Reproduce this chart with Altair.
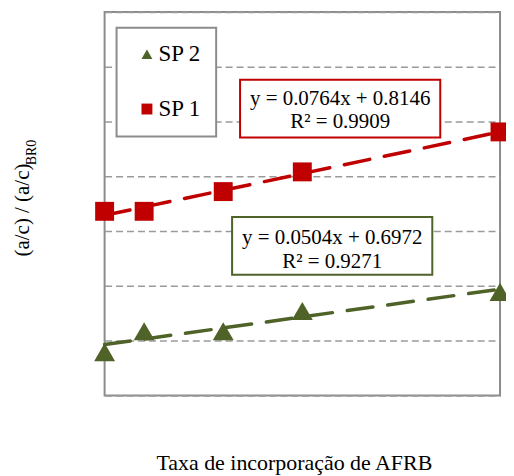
import altair as alt
import pandas as pd

# ---- data ----
x_values = [0, 1, 3, 5, 10]
sp1_values = [0.936, 0.936, 0.972, 1.008, 1.081]
sp2_values = [0.679, 0.717, 0.717, 0.754, 0.789]
series_names = ["SP 2", "SP 1"]
series_colors = ["#4F6228", "#C00000"]
series_shapes = ["triangle-up", "square"]
eq_sp1 = ["y = 0.0764x + 0.8146", "R² = 0.9909"]
eq_sp2 = ["y = 0.0504x + 0.6972", "R² = 0.9271"]
y_grid = [0.6, 0.7, 0.8, 0.9, 1.0, 1.1, 1.2, 1.3]
x_title = "Taxa de incorporação de AFRB"
y_title_main = "(a/c) / (a/c)"
y_title_sub = "BR0"

df = pd.DataFrame({
    "x": x_values * 2,
    "y": sp2_values + sp1_values,
    "series": ["SP 2"] * len(sp2_values) + ["SP 1"] * len(sp1_values),
})

FONT = "Liberation Serif"
W, H = 397, 385
marker_sizes = {"SP 2": 441, "SP 1": 361}

x_enc = alt.X(
    "x:Q",
    scale=alt.Scale(domain=[0, 10], nice=False, zero=False),
    axis=alt.Axis(
        title=x_title, labels=False, ticks=False, domain=False, grid=False,
        titleFont=FONT, titleFontSize=22, titleFontWeight="normal", titleColor="black",
        titleX=190, titleY=74, titleBaseline="alphabetic", titleAlign="center",
    ),
)
y_enc = alt.Y(
    "y:Q",
    scale=alt.Scale(domain=[0.6, 1.3], nice=False, zero=False),
    axis=alt.Axis(
        title=y_title_main, values=y_grid, labels=False, ticks=False, domain=False,
        grid=True, gridDash=[7, 4], gridColor="#9A9A9A", gridWidth=1.5,
        titleFont=FONT, titleFontSize=21, titleFontWeight="normal", titleColor="black",
        titleAngle=270, titleX=-76, titleY=245, titleAlign="left", titleBaseline="alphabetic",
    ),
)

color_scale = alt.Scale(domain=series_names, range=series_colors)
shape_scale = alt.Scale(domain=series_names, range=series_shapes)
legend = alt.Legend(
    title=None, orient="none", legendX=12, legendY=16, padding=15,
    symbolOffset=4, labelOffset=0, rowPadding=31, symbolSize=120,
    labelFont=FONT, labelFontSize=23, labelColor="black",
    strokeColor="#8C8C8C", fillColor="white", symbolStrokeWidth=0,
)

base = alt.Chart(df)

trend_layers = []
point_layers = []
for name, col in zip(series_names, series_colors):
    sub = base.transform_filter(alt.datum.series == name)
    trend_layers.append(
        sub.transform_regression("x", "y", extent=[0, 10]).mark_line(
            color=col, strokeWidth=3.5, strokeDash=[26, 15], strokeCap="round"
        ).encode(x=x_enc, y=y_enc)
    )
    point_layers.append(
        sub.mark_point(filled=True, opacity=1, size=marker_sizes[name]).encode(
            x=x_enc, y=y_enc,
            color=alt.Color("series:N", scale=color_scale, legend=legend),
            shape=alt.Shape("series:N", scale=shape_scale, legend=legend),
        )
    )

one = pd.DataFrame({"k": [0]})


def box(x1, x2, y1, y2, color):
    return alt.Chart(one).mark_rect(fill="white", stroke=color, strokeWidth=2).encode(
        x=alt.value(x1), x2=alt.value(x2), y=alt.value(y1), y2=alt.value(y2)
    )


def label(text, x, y, size=21, angle=0, align="center"):
    return alt.Chart(pd.DataFrame({"t": [text]})).mark_text(
        font=FONT, fontSize=size, align=align, baseline="alphabetic", color="black", angle=angle
    ).encode(x=alt.value(x), y=alt.value(y), text="t:N")


annotations = [
    box(136, 337, 68, 126, series_colors[1]),
    label(eq_sp1[0], 236.5, 93),
    label(eq_sp1[1], 236.5, 117),
    box(128, 329, 206, 264, series_colors[0]),
    label(eq_sp2[0], 228.5, 233),
    label(eq_sp2[1], 228.5, 257),
    label(y_title_sub, -69, 154, size=14, angle=270, align="left"),
]

chart = alt.layer(*trend_layers, *annotations, *point_layers).properties(
    width=W, height=H,
    autosize=alt.AutoSizeParams(type="none"),
    padding={"left": 97, "top": 3, "right": 6, "bottom": 80},
).configure_view(
    stroke="#8C8C8C", strokeWidth=2
).configure_legend(
    strokeWidth=2
)

chart.save("out.html", embed_options={"renderer": "svg", "actions": False})
